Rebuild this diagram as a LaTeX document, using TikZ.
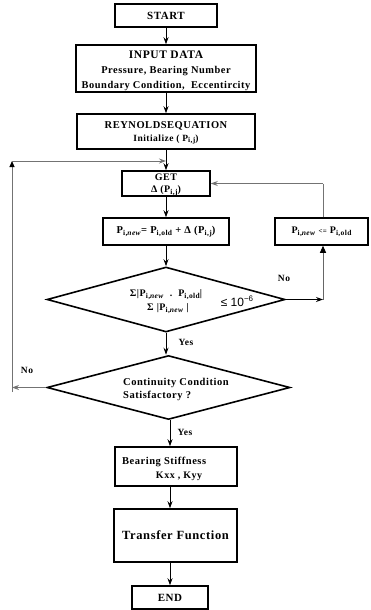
\documentclass[tikz,border=0pt]{standalone}
\usepackage{fontspec}
\setmainfont{Liberation Serif}
\newfontfamily\spfont[LetterSpace=5]{Liberation Serif}
\newfontfamily\arialf{Liberation Sans}
\usetikzlibrary{arrows.meta,shapes.geometric}
\newcommand\sbs[1]{\raisebox{-0.45ex}{\fontsize{7.5}{7.5}\selectfont #1}}
\newcommand\fs[1]{\fontsize{#1}{#1}\selectfont}
\begin{document}
\begin{tikzpicture}[x=1pt,y=-1pt,
  box/.style={draw, line width=1.5pt, inner sep=0pt, font=\bfseries\spfont, align=center},
  dia/.style={draw, diamond, line width=1.6pt, inner sep=0pt},
  arr/.style={-{Stealth[length=7pt,width=5pt]}, line width=0.9pt},
  garr/.style={-{Stealth[length=7pt,width=5pt]}, line width=0.9pt, draw=black!55},
  gline/.style={line width=0.9pt, draw=black!55},
  lbl/.style={font=\bfseries\spfont\fs{9.5}, inner sep=0pt},
  txt/.style={font=\bfseries\spfont, inner sep=0pt, align=left}
]
\useasboundingbox (0,0) rectangle (371,610);

% main column
\node[box, minimum width=102, minimum height=23] (start) at (166,15.5) {\fs{11}START};
\node[box, minimum width=180, minimum height=47] (input) at (166,68.5) {};
\node[txt, align=center] (inputt) at (166,55) {\fs{11.5}INPUT DATA};
\node[txt, align=center] (inputs) at (166,78.5) {\fs{10.4}Pressure, Bearing Number\\[2.5pt]\fs{10.4}Boundary Condition,\ \ Eccentircity};
\node[box, minimum width=178, minimum height=35] (reyn) at (166,131.5) {};
\node[txt, align=center] (reynt) at (166,126) {\fs{10.5}REYNOLDSEQUATION};
\node[txt, align=center] (reyns) at (166,139.5) {\fs{9.5}Initialize ( P\sbs{i,j})};
\node[box, minimum width=88, minimum height=25] (get) at (166,183.5) {};
\node[txt, align=center] (gett) at (166,177) {\fs{10}GET};
\node[txt, align=center] (gets) at (166,190.5) {\fs{10}Δ (P\sbs{i,j})};
\node[box, minimum width=126, minimum height=27] (pnew) at (166,231.5) {\fs{10.5}P\sbs{i,\textit{new}}= P\sbs{i,old} + Δ (P\sbs{i,j})};
\node[box, minimum width=93, minimum height=27] (pold) at (321.5,231.5) {\fs{10}P\sbs{i,\textit{new}} \fs{7}<=\fs{10} P\sbs{i,old}};

\node[dia, minimum width=238, minimum height=65] (d1) at (166,299.5) {};
\node[txt, align=center] (d1a) at (166,295) {\fs{10}Σ|P\sbs{i,\textit{new}}\ \ .\ \ P\sbs{i,old}|};
\node[txt, align=center] (d1b) at (168,309) {\fs{10}Σ |P\sbs{i,\textit{new}} |};
\node[inner sep=0pt] (d1c) at (237,301) {\arialf\fs{12}≤ 10\raisebox{0.8ex}{\fs{8}−6}};

\node[dia, minimum width=243, minimum height=64] (d2) at (168.5,387.5) {};
\node[txt, anchor=west, align=left] (d2t) at (123,389) {\fs{10.5}Continuity Condition\\[1pt]\fs{10.5}Satisfactory ?};

\node[box, minimum width=122, minimum height=39] (bear) at (176,466.5) {};
\node[txt, anchor=west] (beart) at (122,462) {\fs{10.5}Bearing Stiffness};
\node[txt] (bears) at (179,476.5) {\fs{10}Kxx , Kyy};
\node[box, minimum width=123, minimum height=53] (trans) at (175.5,535.5) {\fs{12.5}Transfer Function};
\node[box, minimum width=76, minimum height=23] (end) at (170,597.5) {\fs{11}END};

% labels
\node[lbl] (no1) at (284,278) {No};
\node[lbl] (yes1) at (186,342) {Yes};
\node[lbl] (no2) at (27,370) {No};
\node[lbl] (yes2) at (185,432) {Yes};

% main arrows
\draw[arr] (start) -- (input);
\draw[arr] (input) -- (reyn);
\draw[arr] (reyn) -- (get);
\draw[arr] (get) -- (pnew);
\draw[arr] (pnew) -- (d1);
\draw[arr] (d1.south) -- (d1.south |- d2.north);
\draw[arr] (d2.south -| end.north) -- (bear.north -| end.north);
\draw[arr] (bear.south -| end.north) -- (trans.north -| end.north);
\draw[arr] (trans.south -| end.north) -- (end.north);

% right loop
\coordinate (rb) at (323,299.5);
\coordinate (rt) at (323,183.5);
\draw[arr] (d1.east) -- (rb);
\draw[line width=0.9pt, draw=black!60, -{Triangle[length=7pt,width=6pt,color=black,fill=black]}] (rb) -- (pold.south -| rb);
\draw[gline] (pold.north -| rt) -- (rt);
\draw[garr] (rt) -- (get.east);

% left loop
\coordinate (lb) at (12,387.5);
\coordinate (lbb) at (12,392);
\coordinate (lt) at (12,161);
\coordinate (lj) at (166,161);
\draw[garr] (d2.west) -- (lb);
\draw[gline, -{Triangle[length=6pt,width=5pt,color=black,fill=black]}] (lbb) -- (lt);
\draw[garr] (lt) -- (lj);
\end{tikzpicture}
\end{document}
